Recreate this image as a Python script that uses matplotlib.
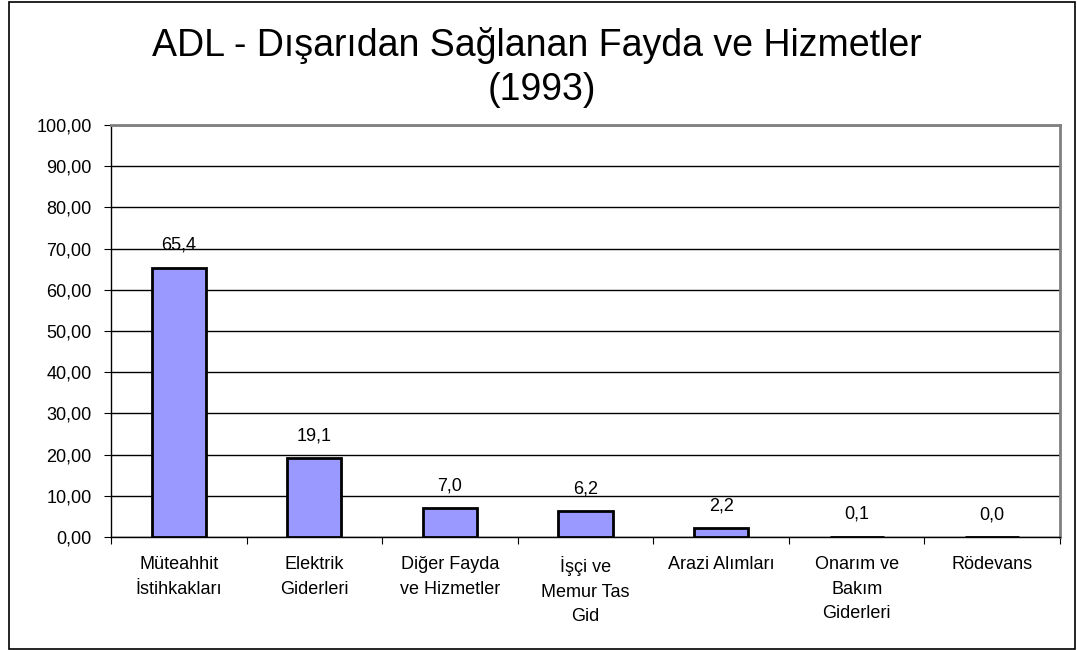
import matplotlib.pyplot as plt
from matplotlib.patches import Rectangle

plt.rcParams['font.family'] = ['Liberation Sans', 'DejaVu Sans']

categories = ["Müteahhit\nİstihkakları", "Elektrik\nGiderleri", "Diğer Fayda\nve Hizmetler",
              "İşçi ve\nMemur Tas\nGid", "Arazi Alımları", "Onarım ve\nBakım\nGiderleri", "Rödevans"]
values = [65.4, 19.1, 7.0, 6.2, 2.2, 0.1, 0.0]
yticks = list(range(0, 101, 10))

fig = plt.figure(figsize=(10.77, 6.5), dpi=100)
ax = fig.add_axes([0.1031, 0.1738, 0.8811, 0.6339])

x = range(len(categories))
ax.bar(x, values, width=0.4, color='#9999FF', edgecolor='black', linewidth=2, zorder=3)

for i, v in enumerate(values):
    ax.annotate(f"{v:.1f}".replace('.', ','), (i, v), xytext=(0, 10), textcoords='offset points',
                ha='center', va='bottom', fontsize=13)

ax.set_xlim(-0.5, len(categories) - 0.5)
ax.set_ylim(0, 100)
ax.set_yticks(yticks)
ax.set_yticklabels([f"{t:.2f}".replace('.', ',') for t in yticks], fontsize=13)
ax.yaxis.grid(True, color='black', linewidth=1, zorder=0)

# category names centred under bars, tick marks between categories
ax.set_xticks([i - 0.5 for i in range(len(categories) + 1)])
ax.set_xticklabels([])
ax.set_xticks(list(x), minor=True)
ax.set_xticklabels(categories, minor=True, fontsize=13, linespacing=1.55, va='top')
ax.tick_params(axis='x', which='minor', length=0, pad=14)
ax.tick_params(axis='x', which='major', length=5, direction='out')
ax.tick_params(axis='y', length=5, direction='out', pad=9)

for side in ['top', 'right']:
    ax.spines[side].set_color('#808080')
    ax.spines[side].set_linewidth(2)
for side in ['left', 'bottom']:
    ax.spines[side].set_color('black')
    ax.spines[side].set_linewidth(1)

fig.text(0.498, 0.9138, "ADL - Dışarıdan Sağlanan Fayda ve Hizmetler",
         ha='center', va='baseline', fontsize=27)
fig.text(0.503, 0.846, "(1993)", ha='center', va='baseline', fontsize=27)

fig.patches.append(Rectangle((0.008, 0.002), 0.99, 0.995, transform=fig.transFigure,
                             fill=False, edgecolor='black', linewidth=1.2))

fig.savefig('out.png', dpi=100)
